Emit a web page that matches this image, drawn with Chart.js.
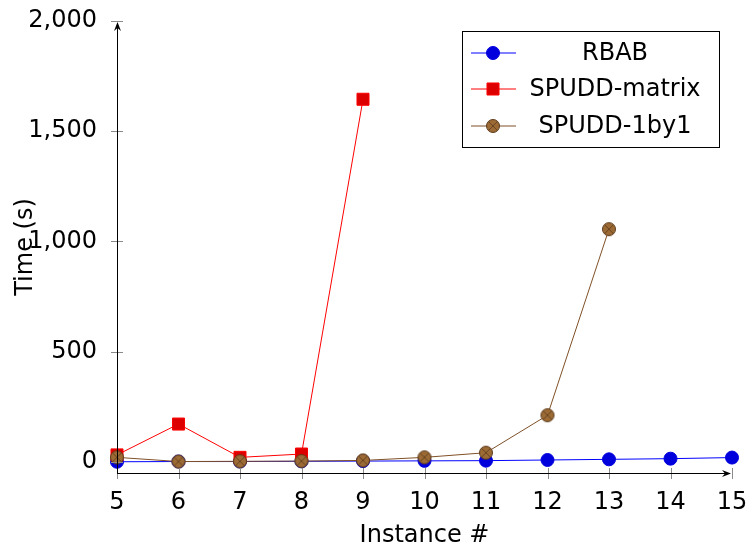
<!DOCTYPE html>
<html>
<head>
<meta charset="utf-8">
<script src="https://cdn.jsdelivr.net/npm/chart.js@4.4.0/dist/chart.umd.min.js"></script>
<style>
  body { margin: 0; background: #fff; }
  canvas { display: block; }
</style>
</head>
<body>
<canvas id="grafico" width="748" height="548"></canvas>
<script>
// datos
const instancias = [5, 6, 7, 8, 9, 10, 11, 12, 13, 14, 15];
const rbab = [1, 2, 2, 3, 4, 5, 6, 9, 12, 15, 20];
const spuddMatrix = [32, 172, 21, 36, 1645];
const spudd1by1 = [21, 2, 3, 4, 7, 21, 42, 212, 1056];
const yTicks = [0, 500, 1000, 1500, 2000];

const FONT = { family: 'DejaVu Sans', size: 24 };

function puntos(vals) {
    return vals.map((v, i) => ({ x: instancias[i], y: v }));
}

// marcador circulo con x (otimes)
function marcaOtimes() {
    const c = document.createElement('canvas');
    c.width = 16; c.height = 16;
    const g = c.getContext('2d');
    const r = 6.5;
    g.beginPath();
    g.arc(8, 8, r, 0, Math.PI * 2);
    g.fillStyle = '#9b6a35';
    g.fill();
    g.lineWidth = 1;
    g.strokeStyle = '#5c3b1a';
    g.stroke();
    const d = r * Math.SQRT1_2;
    g.beginPath();
    g.moveTo(8 - d, 8 - d); g.lineTo(8 + d, 8 + d);
    g.moveTo(8 + d, 8 - d); g.lineTo(8 - d, 8 + d);
    g.lineWidth = 0.8;
    g.stroke();
    return c;
}
const otimes = marcaOtimes();

// ejes con flecha, marcas de ticks y leyenda con recuadro
const ejesPlugin = {
    id: 'ejes',
    afterDraw(chart) {
        const { ctx, chartArea: a, scales: { x, y } } = chart;
        const x0 = a.left, yb = a.bottom;
        ctx.save();
        // ticks
        ctx.strokeStyle = '#8a8a8a';
        ctx.lineWidth = 1;
        ctx.beginPath();
        yTicks.forEach(t => {
            const py = Math.round(y.getPixelForValue(t)) + 0.5;
            ctx.moveTo(x0 - 6, py); ctx.lineTo(x0 + 6, py);
        });
        instancias.forEach(t => {
            const px = Math.round(x.getPixelForValue(t)) + 0.5;
            ctx.moveTo(px, yb - 5); ctx.lineTo(px, yb + 6);
        });
        ctx.stroke();
        // lineas de ejes
        ctx.strokeStyle = '#000';
        ctx.fillStyle = '#000';
        ctx.beginPath();
        ctx.moveTo(x0 + 0.5, yb);
        ctx.lineTo(x0 + 0.5, a.top + 2);
        ctx.moveTo(x0, yb + 0.5);
        ctx.lineTo(a.right - 2, yb + 0.5);
        ctx.stroke();
        // flechas
        ctx.beginPath();
        ctx.moveTo(x0 + 0.5, a.top + 1);
        ctx.lineTo(x0 - 3, a.top + 10);
        ctx.lineTo(x0 + 0.5, a.top + 7);
        ctx.lineTo(x0 + 4, a.top + 10);
        ctx.closePath();
        ctx.fill();
        ctx.beginPath();
        ctx.moveTo(a.right - 1, yb + 0.5);
        ctx.lineTo(a.right - 10, yb - 3);
        ctx.lineTo(a.right - 7, yb + 0.5);
        ctx.lineTo(a.right - 10, yb + 4);
        ctx.closePath();
        ctx.fill();

        // leyenda
        const bx = 462, by = 31, bw = 257, bh = 116;
        ctx.fillStyle = '#fff';
        ctx.fillRect(bx, by, bw, bh);
        ctx.strokeStyle = '#000';
        ctx.lineWidth = 1;
        ctx.strokeRect(bx + 0.5, by + 0.5, bw, bh);
        const filas = [53, 89, 126];
        chart.data.datasets.forEach((ds, i) => {
            const fy = filas[i];
            ctx.strokeStyle = ds.borderColor;
            ctx.lineWidth = ds.borderWidth;
            ctx.beginPath();
            ctx.moveTo(471, fy); ctx.lineTo(516, fy);
            ctx.stroke();
            ctx.fillStyle = ds.pointBackgroundColor;
            ctx.strokeStyle = ds.pointBorderColor;
            ctx.lineWidth = 1;
            Chart.helpers.drawPoint(ctx, {
                pointStyle: ds.pointStyle, radius: ds.pointRadius, rotation: 0, borderWidth: 1
            }, 493, fy);
            ctx.fillStyle = '#000';
            ctx.font = FONT.size + 'px ' + FONT.family;
            ctx.textAlign = 'center';
            ctx.textBaseline = 'middle';
            ctx.fillText(ds.label, 615, fy + 1);
        });
        ctx.restore();
    }
};

const ctx = document.getElementById('grafico').getContext('2d');

const chart = new Chart(ctx, {
    type: 'line',
    data: {
        datasets: [{
            label: 'RBAB',
            data: puntos(rbab),
            borderColor: '#0000ff',
            borderWidth: 1,
            pointStyle: 'circle',
            pointRadius: 6.5,
            pointBackgroundColor: '#0000dd',
            pointBorderColor: '#0000dd',
            pointBorderWidth: 1,
            order: 2,
            clip: false
        }, {
            label: 'SPUDD-matrix',
            data: puntos(spuddMatrix),
            borderColor: '#ff0000',
            borderWidth: 1,
            pointStyle: 'rect',
            pointRadius: 8.5,
            pointBackgroundColor: '#dd0000',
            pointBorderColor: '#ff0000',
            pointBorderWidth: 1,
            order: 1,
            clip: false
        }, {
            label: 'SPUDD-1by1',
            data: puntos(spudd1by1),
            borderColor: '#7f5026',
            borderWidth: 1,
            pointStyle: otimes,
            pointRadius: 6.5,
            pointBackgroundColor: '#9b6a35',
            pointBorderColor: '#5c3b1a',
            pointBorderWidth: 1,
            order: 0,
            clip: false
        }]
    },
    options: {
        responsive: false,
        animation: false,
        layout: { padding: { top: 21, right: 16, left: 0, bottom: 0 } },
        plugins: {
            legend: { display: false },
            tooltip: { enabled: false }
        },
        scales: {
            x: {
                type: 'linear',
                min: 5,
                max: 15,
                grid: { display: false, drawTicks: false },
                border: { display: false },
                ticks: { stepSize: 1, color: '#000', font: FONT, padding: 15 },
                title: { display: true, text: 'Instance #', color: '#000', font: { ...FONT, lineHeight: 1 }, padding: { top: 0, bottom: 0 } },
                afterFit(s) { s.height = 75; s.paddingLeft = 0; s.paddingRight = 0; }
            },
            y: {
                type: 'linear',
                min: -50,
                max: 2000,
                grid: { display: false, drawTicks: false },
                border: { display: false },
                afterBuildTicks(s) { s.ticks = yTicks.map(v => ({ value: v })); },
                ticks: {
                    color: '#000',
                    font: FONT,
                    padding: 20,
                    callback: v => v.toLocaleString('en-US')
                },
                title: { display: true, text: 'Time (s)', color: '#000', font: FONT, padding: { top: 11, bottom: 0 } },
                afterFit(s) { s.width = 117; s.paddingTop = 0; s.paddingBottom = 0; }
            }
        }
    },
    plugins: [ejesPlugin]
});
</script>
</body>
</html>
